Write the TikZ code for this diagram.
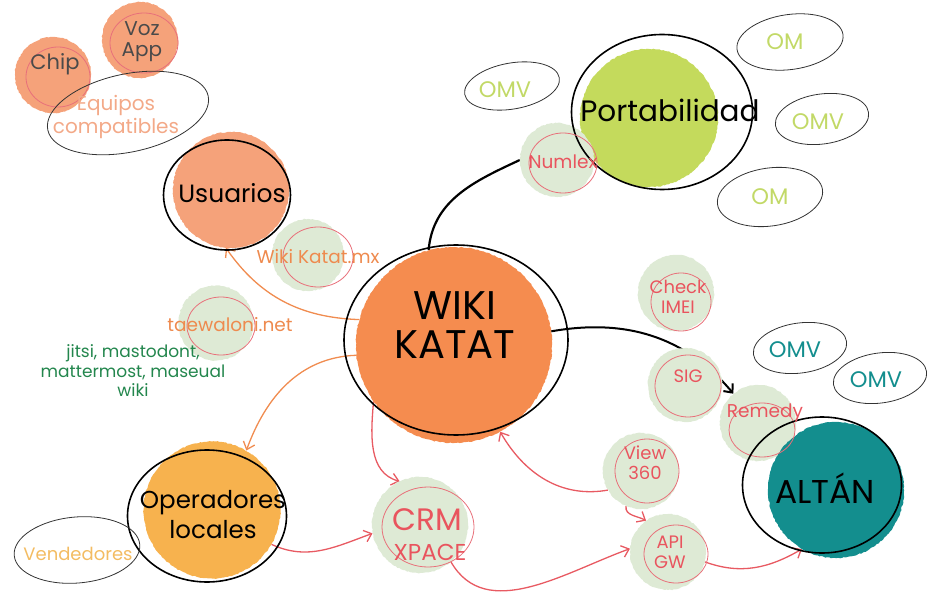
\documentclass[tikz,border=0pt]{standalone}
\usepackage{fontspec}
\setmainfont{Poppins}
\usepackage{tikz}
\definecolor{wikiorange}{HTML}{F58C4F}
\definecolor{salmon}{HTML}{F5A27A}
\definecolor{operyellow}{HTML}{F7B24E}
\definecolor{palegreen}{HTML}{DEEAD5}
\definecolor{ringred}{HTML}{E8707A}
\definecolor{txtred}{HTML}{E9545E}
\definecolor{lime}{HTML}{C4DA5C}
\definecolor{limetxt}{HTML}{C2D967}
\definecolor{altanteal}{HTML}{138E8E}
\definecolor{eqtxt}{HTML}{F3A988}
\definecolor{vendtxt}{HTML}{F3BC62}
\definecolor{urltxt}{HTML}{EE8A4E}
\definecolor{jitsigreen}{HTML}{23864D}
\definecolor{arroworange}{HTML}{F08C50}
\definecolor{arrowred}{HTML}{E85A62}
\definecolor{chiptxt}{HTML}{4A4A4A}
\usetikzlibrary{shapes.geometric, decorations.pathmorphing, backgrounds, arrows.meta}

\begin{document}
\begin{tikzpicture}[x=1pt, y=1pt,
		blob/.style={circle, inner sep=0pt, minimum size=#1, decorate, decoration={random steps, segment length=2pt, amplitude=0.5pt}},
		ring/.style n args={2}{ellipse, draw=ringred, line width=0.8pt, inner sep=0pt, minimum width=#1, minimum height=#2},
		bigring/.style n args={2}{ellipse, draw=black, line width=1.6pt, inner sep=0pt, minimum width=#1, minimum height=#2},
		oval/.style n args={2}{ellipse, draw=black!80, line width=0.8pt, inner sep=0pt, minimum width=#1, minimum height=#2},
		lbl/.style={align=center, inner sep=0pt},
		link/.style={line width=1.3pt, -{Straight Barb[length=7pt, width=12pt]}}]
		\useasboundingbox (0,0) rectangle (928,595);
		
		% blobs
		\node[blob=76pt, fill=salmon] (chip) at (53,520) {};
		\node[blob=76pt, fill=salmon] (voz) at (140,555) {};
		\node[blob=116pt, fill=salmon] (usr) at (231,405) {};
		\node[blob=72pt, fill=palegreen] (wkmx) at (308,340) {};
		\node[blob=75pt, fill=palegreen] (taew) at (216,272) {};
		\node[blob=196pt, fill=wikiorange] (wiki) at (454,250) {};
		\node[blob=138pt, fill=lime] (port) at (649,477) {};
		\node[blob=74pt, fill=palegreen] (numlex) at (557,435) {};
		\node[blob=76pt, fill=palegreen] (check) at (676,302) {};
		\node[blob=74pt, fill=palegreen] (sig) at (685,210) {};
		\node[blob=76pt, fill=palegreen] (remedy) at (758,172) {};
		\node[blob=136pt, fill=altanteal] (altan) at (836,105) {};
		\node[blob=76pt, fill=palegreen] (view) at (641,124) {};
		\node[blob=76pt, fill=palegreen] (api) at (668,43) {};
		\node[blob=96pt, fill=palegreen] (crm) at (420,70) {};
		\node[blob=137pt, fill=operyellow] (oper) at (212,85) {};
		
		% rings and ovals
		\node[ring={64pt}{60pt}] (chipr) at (58,518) {};
		\node[ring={68pt}{60pt}] (vozr) at (144,552) {};
		\node[oval={164pt}{78pt}, rotate=12] (equi) at (128,482) {};
		\node[bigring={127pt}{110pt}] (usrr) at (227,400) {};
		\node[ring={70pt}{60pt}] (wkmxr) at (318,338) {};
		\node[ring={68pt}{58pt}] (taewr) at (221,269) {};
		\node[bigring={224pt}{190pt}] (wikir) at (456,255) {};
		\node[bigring={181pt}{155pt}] (portr) at (662,483) {};
		\node[ring={68pt}{60pt}] (numlexr) at (563,432) {};
		\node[oval={96pt}{46pt}, rotate=10] (omv1) at (512,509) {};
		\node[oval={107pt}{55pt}, rotate=8] (om1) at (790,553) {};
		\node[oval={94pt}{50pt}, rotate=8] (omv2) at (822,476) {};
		\node[oval={106pt}{58pt}, rotate=8] (om2) at (770,398) {};
		\node[ring={60pt}{58pt}] (checkr) at (681,293) {};
		\node[ring={66pt}{62pt}] (sigr) at (688,209) {};
		\node[ring={66pt}{54pt}] (remedyr) at (762,165) {};
		\node[bigring={159pt}{136pt}] (altanr) at (822,110) {};
		\node[oval={94pt}{50pt}, rotate=8] (omv3) at (800,247) {};
		\node[oval={94pt}{50pt}, rotate=8] (omv4) at (880,217) {};
		\node[ring={64pt}{64pt}] (viewr) at (647,124) {};
		\node[ring={64pt}{58pt}] (apir) at (676,41) {};
		\node[ring={92pt}{80pt}] (crmr) at (428,68) {};
		\node[bigring={159pt}{132pt}] (operr) at (207,79) {};
		\node[oval={126pt}{66pt}, rotate=5] (vend) at (77,45) {};
		
		% texts
		\node[lbl, text=chiptxt, font=\fontsize{21}{23}\selectfont] (chipc) at (55,531) {Chip};
		\node[lbl, text=chiptxt, font=\fontsize{20}{21}\selectfont] (vozc) at (142,553) {Voz\\App};
		\node[lbl, text=eqtxt, font=\fontsize{20}{23}\selectfont] (equic) at (116,478) {Equipos\\compatibles};
		\node[lbl, font=\fontsize{25}{27}\selectfont] (usrc) at (232,402) {Usuarios};
		\node[lbl, text=urltxt, font=\fontsize{18.5}{20}\selectfont] (wkmxc) at (318,338) {Wiki Katat.mx};
		\node[lbl, text=urltxt, font=\fontsize{18.5}{20}\selectfont] (taewc) at (230,270) {taewaloni.net};
		\node[lbl, text=jitsigreen, font=\fontsize{17}{19.5}\selectfont] (jitsic) at (133,224) {jitsi, mastodont,\\mattermost, maseual\\wiki};
		\node[lbl, font=\fontsize{40}{39}\selectfont] (wikic) at (455,270) {WIKI\\KATAT};
		\node[lbl, font=\fontsize{29.5}{31}\selectfont] (portc) at (670,485) {Portabilidad};
		\node[lbl, text=txtred, font=\fontsize{18.5}{20}\selectfont] (numlexc) at (563,433) {Numlex};
		\node[lbl, text=limetxt, font=\fontsize{22.5}{24}\selectfont] (omv1c) at (505,505) {OMV};
		\node[lbl, text=limetxt, font=\fontsize{22.5}{24}\selectfont] (om1c) at (785,553) {OM};
		\node[lbl, text=limetxt, font=\fontsize{22.5}{24}\selectfont] (omv2c) at (818,473) {OMV};
		\node[lbl, text=limetxt, font=\fontsize{22.5}{24}\selectfont] (om2c) at (770,398) {OM};
		\node[lbl, text=txtred, font=\fontsize{18}{20}\selectfont] (checkc) at (678,298) {Check\\IMEI};
		\node[lbl, text=txtred, font=\fontsize{18}{20}\selectfont] (sigc) at (688,219) {SIG};
		\node[lbl, text=txtred, font=\fontsize{18.5}{20}\selectfont] (remedyc) at (765,182) {Remedy};
		\node[lbl, font=\fontsize{33}{35}\selectfont] (altanc) at (825,107) {ALTÁN};
		\node[lbl, text=altanteal, font=\fontsize{22.5}{24}\selectfont] (omv3c) at (795,245) {OMV};
		\node[lbl, text=altanteal, font=\fontsize{22.5}{24}\selectfont] (omv4c) at (876,215) {OMV};
		\node[lbl, text=txtred, font=\fontsize{18}{20}\selectfont] (viewc) at (645,132) {View\\360};
		\node[lbl, text=txtred, font=\fontsize{18}{20}\selectfont] (apic) at (670,43) {API\\GW};
		\node[lbl, text=txtred, font=\fontsize{31}{33}\selectfont] (crmc) at (427,75) {CRM};
		\node[lbl, text=txtred, font=\fontsize{23}{25}\selectfont] (xpacec) at (430,43) {XPACE};
		\node[lbl, font=\fontsize{24.5}{30}\selectfont] (operc) at (213,80) {Operadores\\locales};
		\node[lbl, text=vendtxt, font=\fontsize{18}{20}\selectfont] (vendc) at (78,41) {Vendedores};
		
		% connectors
		\begin{scope}[on background layer]
		\draw[link, -, black, line width=2.2pt] (wiki.105) to[out=85, in=205] (numlex.180);
		\draw[link, black, line width=2pt] (wiki.8) to[out=10, in=130] (remedy.130);
		\draw[link, arroworange] (wiki.165) to[out=178, in=-55] (usr.265); % Usuarios
		\draw[link, arroworange] (wiki.186) to[out=182, in=70] (oper.60); % Operadores
		\draw[link, arrowred] (wiki.215) to[out=265, in=165] (crm.115);
		\draw[link, arrowred] (view.210) to[out=190, in=-60] (wiki.-62);
		\draw[link, arrowred] (oper.-30) to[out=-25, in=200] (crm.190);
		\draw[link, arrowred] (crm.-50) to[out=-60, in=200] (api.175);
		\draw[link, arrowred] (view.247) to[out=260, in=150] (api.125);
		\draw[link, arrowred] (api.-15) to[out=-20, in=210] (altan.240);
		\end{scope}
	\end{tikzpicture}
\end{document}
